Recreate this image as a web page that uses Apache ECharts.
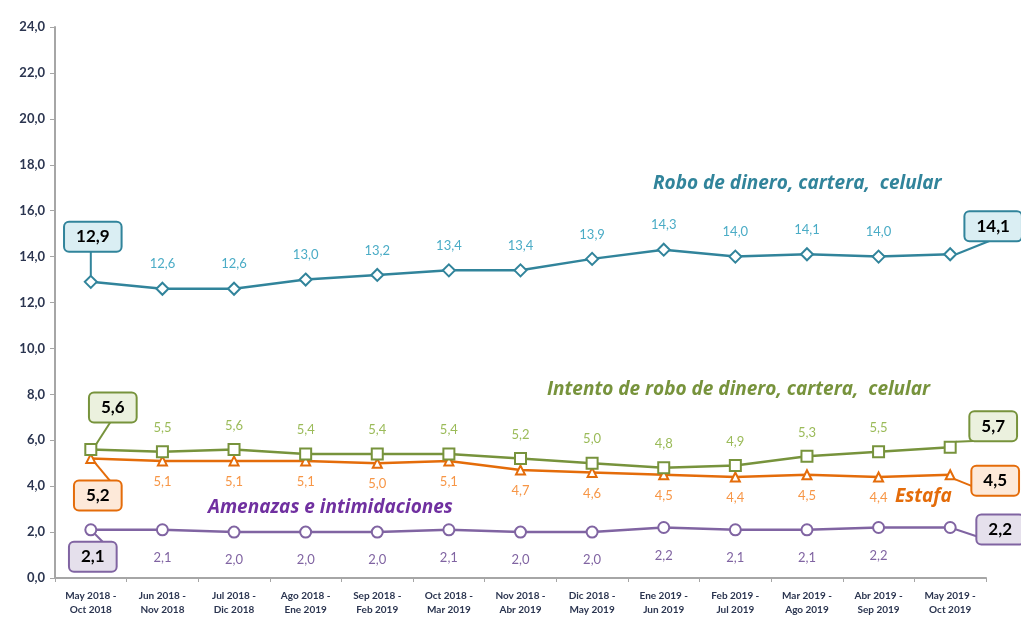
<!DOCTYPE html>
<html><head><meta charset="utf-8">
<script src="https://cdn.jsdelivr.net/npm/echarts@6/dist/echarts.min.js"></script>
<style>html,body{margin:0;padding:0;background:#fff}#c{width:1021px;height:617px}</style>
</head><body><div id="c"></div>
<script>
const categories = ["May 2018 -\nOct 2018","Jun 2018 -\nNov 2018","Jul 2018 -\nDic 2018","Ago 2018 -\nEne 2019","Sep 2018 -\nFeb 2019","Oct 2018 -\nMar 2019","Nov 2018 -\nAbr 2019","Dic 2018 -\nMay 2019","Ene 2019 -\nJun 2019","Feb 2019 -\nJul 2019","Mar 2019 -\nAgo 2019","Abr 2019 -\nSep 2019","May 2019 -\nOct 2019"];
const robo = [12.9,12.6,12.6,13.0,13.2,13.4,13.4,13.9,14.3,14.0,14.1,14.0,14.1];
const intento = [5.6,5.5,5.6,5.4,5.4,5.4,5.2,5.0,4.8,4.9,5.3,5.5,5.7];
const estafa = [5.2,5.1,5.1,5.1,5.0,5.1,4.7,4.6,4.5,4.4,4.5,4.4,4.5];
const amenazas = [2.1,2.1,2.0,2.0,2.0,2.1,2.0,2.0,2.2,2.1,2.1,2.2,2.2];
const seriesNames = ["Robo de dinero, cartera,  celular","Intento de robo de dinero, cartera,  celular","Estafa","Amenazas e intimidaciones"];
const yTicks = {min:0, max:24, interval:2};

const fmt = v => v.toFixed(1).replace('.', ',');
const FONT = 'Lato';

function build(values, cfg) {
  return values.map((v, i) => {
    const item = {value: v};
    if (i === 0 || i === values.length - 1) {
      const off = i === 0 ? cfg.firstOff : cfg.lastOff;
      item.label = {
        show: true, position: 'inside', offset: off,
        color: '#000', fontWeight: 'bold', fontSize: 17, fontFamily: FONT,
        backgroundColor: cfg.fill, borderColor: cfg.color, borderWidth: 2,
        borderRadius: 4, padding: [6, 11, 5, 11]
      };
      item.labelLine = {show: true, lineStyle: {color: cfg.color, width: 2}};
    }
    return item;
  });
}

function series(name, values, cfg) {
  return {
    name, type: 'line', data: build(values, cfg),
    symbol: cfg.symbol, symbolSize: cfg.symbolSize,
    itemStyle: {color: '#fff', borderColor: cfg.color, borderWidth: 2},
    lineStyle: {color: cfg.color, width: 2.5},
    label: {show: true, position: cfg.pos, distance: cfg.dist, formatter: p => fmt(p.value),
      color: cfg.labelColor, fontSize: 13, fontFamily: FONT},
    labelLine: {show: false},
    z: cfg.z
  };
}

const chart = echarts.init(document.getElementById('c'), null, {renderer: 'canvas'});
chart.setOption({
  animation: false,
  grid: {left: 55, right: 35, top: 27, bottom: 38},
  xAxis: {
    type: 'category', data: categories, boundaryGap: true,
    axisLine: {lineStyle: {color: '#A6A6A6', width: 2}},
    axisTick: {show: true, length: 4, lineStyle: {color: '#A6A6A6'}},
    axisLabel: {interval: 0, fontSize: 10, fontWeight: 'bold', color: '#2B3550', fontFamily: FONT, lineHeight: 14, margin: 11}
  },
  yAxis: {
    type: 'value', min: yTicks.min, max: yTicks.max, interval: yTicks.interval,
    splitLine: {show: false},
    axisLine: {show: true, lineStyle: {color: '#A6A6A6', width: 2}},
    axisTick: {show: true, length: 5, lineStyle: {color: '#A6A6A6'}},
    axisLabel: {formatter: v => fmt(v), fontSize: 13, fontWeight: 'bold', color: '#2B3550', fontFamily: FONT, margin: 10}
  },
  series: [
    series(seriesNames[0], robo, {color: '#31849B', labelColor: '#4BACC6', fill: '#DAEEF3', symbol: 'diamond', symbolSize: 12, pos: 'top', dist: 11, firstOff: [2, -45], lastOff: [43, -28], z: 4}),
    series(seriesNames[1], intento, {color: '#77933C', labelColor: '#9BBB59', fill: '#EBF1DE', symbol: 'rect', symbolSize: 11, pos: 'top', dist: 11, firstOff: [22, -42], lastOff: [43, -21], z: 3}),
    series(seriesNames[2], estafa, {color: '#E46C0A', labelColor: '#F79646', fill: '#FDE9D9', symbol: 'triangle', symbolSize: 9, pos: 'bottom', dist: 9, firstOff: [7, 37], lastOff: [45, 6], z: 2}),
    series(seriesNames[3], amenazas, {color: '#8064A2', labelColor: '#8064A2', fill: '#E5E0EC', symbol: 'circle', symbolSize: 11, pos: 'bottom', dist: 15, firstOff: [2, 27], lastOff: [50, 2], z: 1})
  ],
  graphic: [
    {type: 'text', left: 653, top: 174, style: {text: seriesNames[0], fill: '#31849B', font: 'italic bold 19px "Open Sans"'}},
    {type: 'text', left: 547, top: 380, style: {text: seriesNames[1], fill: '#77933C', font: 'italic bold 19px "Open Sans"'}},
    {type: 'text', left: 895, top: 487, style: {text: seriesNames[2], fill: '#E46C0A', font: 'italic bold 19px "Open Sans"'}},
    {type: 'text', left: 208, top: 498, style: {text: seriesNames[3], fill: '#7030A0', font: 'italic bold 19px "Open Sans"'}}
  ]
});
</script></body></html>
